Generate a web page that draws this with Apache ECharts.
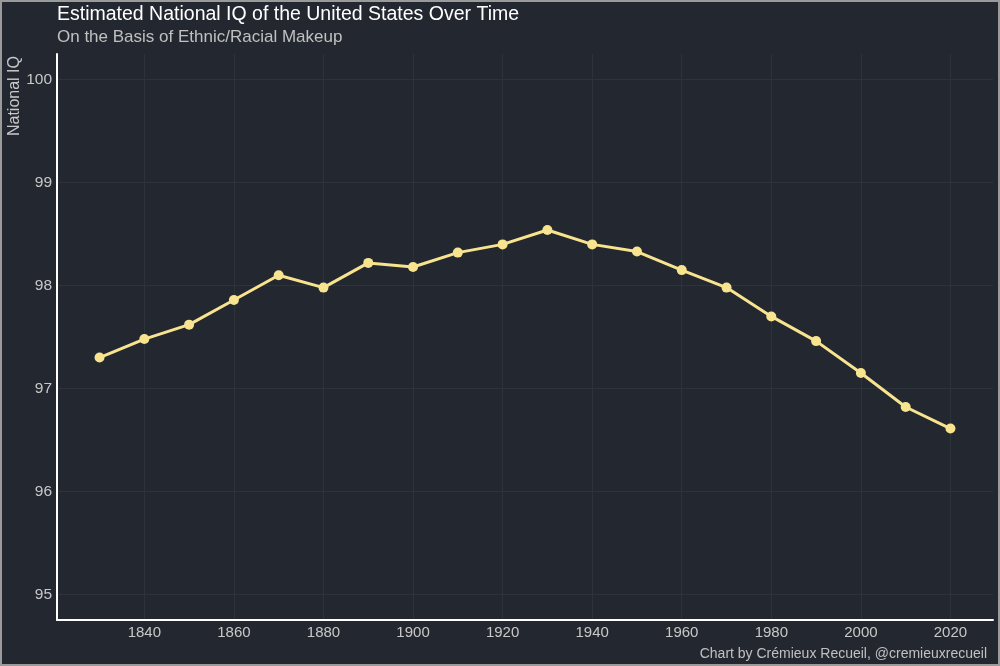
<!DOCTYPE html>
<html>
<head>
<meta charset="utf-8">
<script src="https://cdn.jsdelivr.net/npm/echarts@6/dist/echarts.min.js"></script>
<style>
  html, body { margin: 0; padding: 0; background: #232830; }
  #chart { width: 1000px; height: 666px; }
</style>
</head>
<body>
<div id="chart"></div>
<script>
const years = [1830, 1840, 1850, 1860, 1870, 1880, 1890, 1900, 1910, 1920,
               1930, 1940, 1950, 1960, 1970, 1980, 1990, 2000, 2010, 2020];
const iq = [97.30, 97.48, 97.62, 97.86, 98.10, 97.98, 98.22, 98.18, 98.32, 98.40,
            98.54, 98.40, 98.33, 98.15, 97.98, 97.70, 97.46, 97.15, 96.82, 96.61];
const xTicks = [1840, 1860, 1880, 1900, 1920, 1940, 1960, 1980, 2000, 2020];
const yTicks = [95, 96, 97, 98, 99, 100];

const font = "Liberation Sans, Arial, sans-serif";
const chart = echarts.init(document.getElementById("chart"));

chart.setOption({
    backgroundColor: "#232830",
    animation: false,
    grid: { left: 57, right: 7, top: 54, bottom: 46 },
    xAxis: {
        type: "value",
        min: 1820.5,
        max: 2029.5,
        axisLine: { show: true, lineStyle: { color: "#ffffff", width: 2 } },
        axisTick: { show: false, customValues: xTicks },
        axisLabel: { customValues: xTicks, formatter: (v) => String(v), color: "#c8c8c8", fontSize: 15, fontFamily: font, margin: 5 },
        splitLine: { show: true, lineStyle: { color: "#2d333b", width: 1 } }
    },
    yAxis: {
        type: "value",
        min: 94.75,
        max: 100.25,
        axisLine: { show: true, onZero: false, lineStyle: { color: "#ffffff", width: 2 } },
        axisTick: { show: false, customValues: yTicks },
        axisLabel: { customValues: yTicks, formatter: (v) => String(v), color: "#c8c8c8", fontSize: 15.5, fontFamily: font, margin: 5 },
        splitLine: { show: true, lineStyle: { color: "#2d333b", width: 1 } }
    },
    series: [{
        type: "line",
        data: years.map((y, i) => [y, iq[i]]),
        symbol: "circle",
        symbolSize: 10,
        lineStyle: { color: "#f8e38e", width: 3 },
        itemStyle: { color: "#f8e38e" }
    }],
    graphic: [
        { type: "text", left: 57, top: 5, style: { text: "Estimated National IQ of the United States Over Time", fill: "#ffffff", fontSize: 19.5, fontFamily: font } },
        { type: "text", left: 57, top: 29, style: { text: "On the Basis of Ethnic/Racial Makeup", fill: "#c0c0c0", fontSize: 17, fontFamily: font } },
        { type: "text", x: 15, y: 56, rotation: Math.PI / 2, style: { text: "National IQ", fill: "#c8c8c8", fontSize: 16, fontFamily: font, align: "right", verticalAlign: "middle" } },
        { type: "text", right: 13, bottom: 5, style: { text: "Chart by Crémieux Recueil, @cremieuxrecueil", fill: "#c0c0c0", fontSize: 14, fontFamily: font } },
        { type: "rect", shape: { x: 1, y: 1, width: 998, height: 664 }, style: { fill: "none", stroke: "#9a9a9a", lineWidth: 2 }, silent: true }
    ]
});
</script>
</body>
</html>
